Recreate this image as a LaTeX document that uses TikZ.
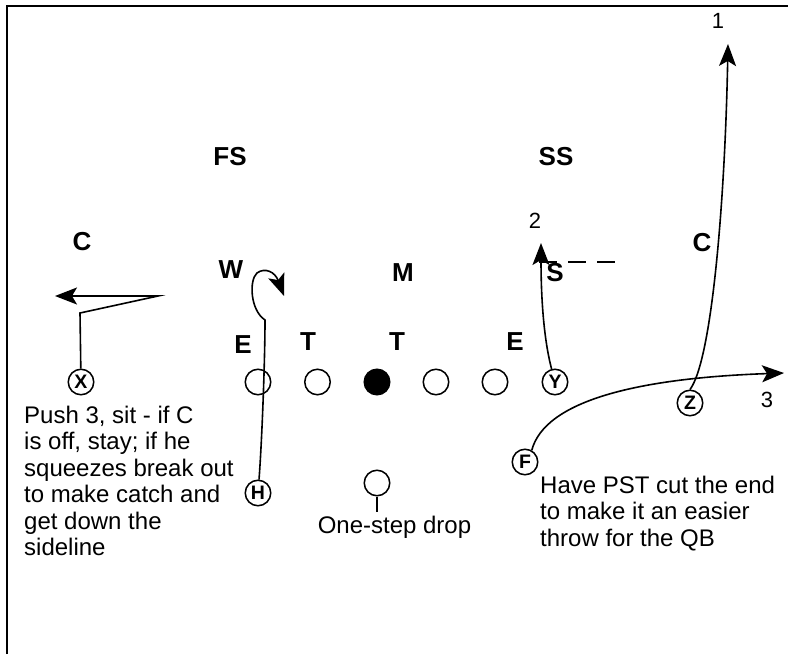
\documentclass[tikz,border=0pt]{standalone}
\usepackage{fontspec}
\setmainfont{Liberation Sans}
\usepackage{tikz}
\usetikzlibrary{arrows.meta, positioning}

\begin{document}
\begin{tikzpicture}[x=1pt, y=-1pt,
            player/.style={circle, draw, line width=1.5pt, minimum size=25.5pt, inner sep=0pt, font=\bfseries\fontsize{19.5}{19.5}\selectfont},
            defender/.style={inner sep=0pt, font=\bfseries\fontsize{26}{26}\selectfont},
            note/.style={anchor=north west, inner sep=0pt, align=left, font=\fontsize{24}{26.5}\selectfont},
            num/.style={inner sep=0pt, font=\fontsize{22}{22}\selectfont},
            route/.style={line width=1.6pt, -{Stealth[length=22pt, width=17pt, inset=5pt]}}
        ]
\useasboundingbox (0,0) rectangle (788,654);

% Frame
            \draw[line width=2pt] (7,654) -- (7,6) -- (788,6);

% Defense
            \node[defender] (fs) at (230,157) {FS};
            \node[defender] (ss) at (556,157) {SS};
            \node[defender] (cleft) at (82,242) {C};
            \node[defender] (cright) at (702,243) {C};
            \node[defender] (will) at (231,270) {W};
            \node[defender] (mike) at (403,273) {M};
            \node[defender] (sam) at (555,273) {S};
            \node[defender] (eleft) at (243,345) {E};
            \node[defender] (tleft) at (308,342) {T};
            \node[defender] (tright) at (397,342) {T};
            \node[defender] (eright) at (515,342) {E};

% Offense
            \node[player] (X) at (81,382) {X};
            \node[player] (lt) at (258,382) {};
            \node[player] (lg) at (317.5,382) {};
            \node[player, fill] (ctr) at (377,382) {};
            \node[player] (rg) at (436,382) {};
            \node[player] (rt) at (495,382) {};
            \node[player] (Y) at (555,382) {Y};
            \node[player] (Z) at (690,403) {Z};
            \node[player] (F) at (525,462) {F};
            \node[player] (H) at (258,493) {H};
            \node[player] (QB) at (377,483) {};
            \coordinate (drop) at (377,512);
            \draw[line width=1.5pt] (QB) -- (drop);
            \node[note, anchor=base] (dropnote) at (394.5,533) {One-step drop};

% Route numbers
            \node[num] (n1) at (718,21) {1};
            \node[num] (n2) at (535,221) {2};
            \node[num] (n3) at (767,400) {3};

% Routes
            \coordinate (xstem) at (80,313);
            \coordinate (xsit) at (158,296);
            \coordinate (xout) at (55,296);
            \draw[route] (X) -- (xstem) -- (xsit) -- (xout);

            \coordinate (hturn) at (265,320);
            \coordinate (hend) at (284,296);
            \draw[route] (H) .. controls (262,440) and (265,360) .. (hturn) .. controls (250,310) and (249,280) .. (257,273) .. controls (265,267) and (275,272) .. (hend);

            \coordinate (yend) at (541,243);
            \draw[route] (Y) .. controls (544,340) and (541,300) .. (yend);

            \coordinate (sa) at (530,262);
            \coordinate (sb) at (618,262);
            \draw[line width=1.5pt, dash pattern=on 18pt off 11pt, dash phase=20pt] (sa) -- (sb);

            \coordinate (zend) at (728,44);
            \draw[route] (Z.north) .. controls (712,360) and (725,200) .. (zend);

            \coordinate (fend) at (784,373);
            \draw[route] (F.60) .. controls (545,400) and (640,378) .. (fend);

% Notes
            \node[note] (xnote) at (24,405.5) {Push 3, sit - if C\\is off, stay; if he\\squeezes break out\\to make catch and\\get down the\\sideline};
            \node[note] (fnote) at (540,475.5) {Have PST cut the end\\to make it an easier\\throw for the QB};

        \end{tikzpicture}
\end{document}
